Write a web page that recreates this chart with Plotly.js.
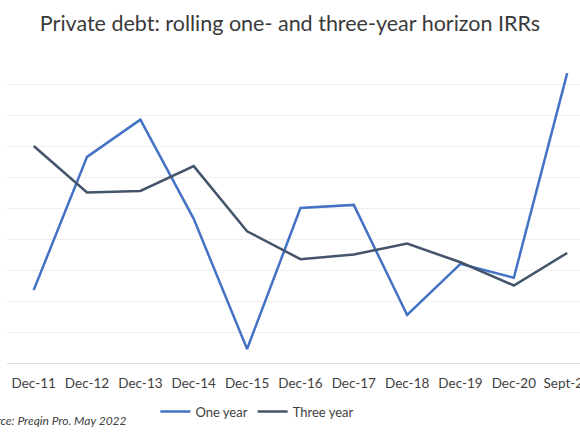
<!DOCTYPE html>
<html>
<head>
<meta charset="utf-8">
<script src="https://cdn.plot.ly/plotly-3.0.1.min.js"></script>
<style>html,body{margin:0;padding:0;background:#fff;}#chart{width:580px;height:435px;}</style>
</head>
<body>
<div id="chart"></div>
<script>
const categories = ["Dec-11","Dec-12","Dec-13","Dec-14","Dec-15","Dec-16","Dec-17","Dec-18","Dec-19","Dec-20","Sept-21"];
const oneYear = [4.7, 13.3, 15.7, 9.3, 0.9, 10.0, 10.2, 3.1, 6.4, 5.5, 18.7];
const threeYear = [14.0, 11.0, 11.1, 12.7, 8.5, 6.7, 7.0, 7.7, 6.5, 5.0, 7.1];
const seriesNames = ["One year", "Three year"];

const traces = [
  {x: categories, y: oneYear, name: seriesNames[0], type: "scatter", mode: "lines",
   line: {color: "#4472C4", width: 2.5}},
  {x: categories, y: threeYear, name: seriesNames[1], type: "scatter", mode: "lines",
   line: {color: "#44546A", width: 2.5}}
];

const layout = {
  width: 580, height: 435,
  margin: {l: 6.6, r: 0, t: 52.7, b: 71.7},
  paper_bgcolor: "#ffffff", plot_bgcolor: "#ffffff",
  font: {family: "Lato, 'Open Sans', sans-serif", color: "#404040", size: 13},
  title: {text: "Private debt: rolling one- and three-year horizon IRRs",
          x: 0.5, xanchor: "center", y: 0.945, yanchor: "middle",
          font: {family: "Lato, sans-serif", size: 21.5, color: "#3a3a3a"}},
  xaxis: {type: "category", range: [-0.5, 10.24], showgrid: false, showline: false,
          zeroline: false, ticks: "", ticklabelstandoff: 10,
          tickfont: {size: 13.5, color: "#404040"}, fixedrange: true},
  yaxis: {range: [0, 20], dtick: 2, showticklabels: false, gridcolor: "#efefef", gridwidth: 1,
          zeroline: true, zerolinecolor: "#dddddd", zerolinewidth: 1, showline: false, fixedrange: true},
  showlegend: true,
  legend: {orientation: "h", x: 0.437, xanchor: "center", y: -0.157, yanchor: "middle",
           font: {size: 13, color: "#404040"}, itemwidth: 30, tracegroupgap: 0},
  annotations: [{text: "<i>Source: Preqin Pro. May 2022</i>", xref: "paper", yref: "paper",
                 x: 0.2135, xanchor: "right", y: -0.186, yanchor: "middle", showarrow: false,
                 font: {size: 12, color: "#404040"}}]
};

Plotly.newPlot("chart", traces, layout, {displayModeBar: false, staticPlot: true});
</script>
</body>
</html>
